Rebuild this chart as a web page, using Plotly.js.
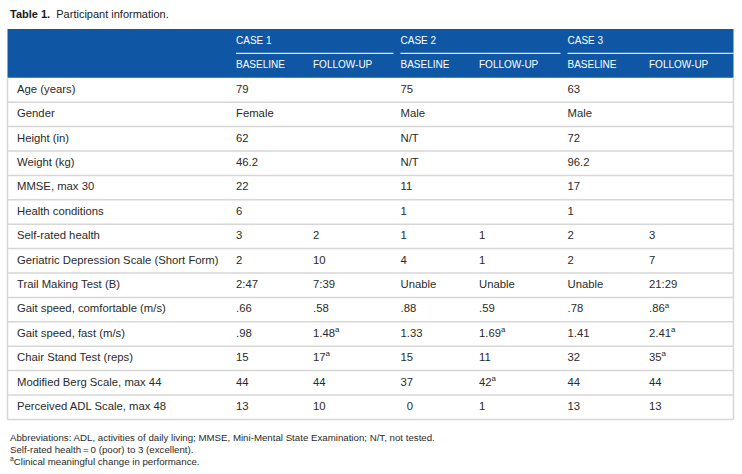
<!DOCTYPE html>
<html>
<head>
<meta charset="utf-8">
<script src="https://cdn.plot.ly/plotly-3.0.1.min.js"></script>
<style>html,body{margin:0;padding:0;background:#fff;}#chart{width:742px;height:474px;}</style>
</head>
<body>
<div id="chart"></div>
<script>
// ---------- DATA ----------
var tableTitle = "Table 1.";
var tableSubtitle = "Participant information.";
var caseNames = ["CASE 1", "CASE 2", "CASE 3"];
var phaseNames = ["BASELINE", "FOLLOW-UP"];
var rowLabels = [
  "Age (years)", "Gender", "Height (in)", "Weight (kg)", "MMSE, max 30",
  "Health conditions", "Self-rated health", "Geriatric Depression Scale (Short Form)",
  "Trail Making Test (B)", "Gait speed, comfortable (m/s)", "Gait speed, fast (m/s)",
  "Chair Stand Test (reps)", "Modified Berg Scale, max 44", "Perceived ADL Scale, max 48"
];
var case1Baseline = ["79", "Female", "62", "46.2", "22", "6", "3", "2", "2:47", ".66", ".98", "15", "44", "13"];
var case1FollowUp = ["", "", "", "", "", "", "2", "10", "7:39", ".58", "1.48<sup>a</sup>", "17<sup>a</sup>", "44", "10"];
var case2Baseline = ["75", "Male", "N/T", "N/T", "11", "1", "1", "4", "Unable", ".88", "1.33", "15", "37", "\u20070"];
var case2FollowUp = ["", "", "", "", "", "", "1", "1", "Unable", ".59", "1.69<sup>a</sup>", "11", "42<sup>a</sup>", "1"];
var case3Baseline = ["63", "Male", "72", "96.2", "17", "1", "2", "2", "Unable", ".78", "1.41", "32", "44", "13"];
var case3FollowUp = ["", "", "", "", "", "", "3", "7", "21:29", ".86<sup>a</sup>", "2.41<sup>a</sup>", "35<sup>a</sup>", "44", "13"];
var footnotes = [
  "Abbreviations: ADL, activities of daily living; MMSE, Mini-Mental State Examination; N/T, not tested.",
  "Self-rated health\u2009=\u20090 (poor) to 3 (excellent).",
  "<sup>a</sup>Clinical meaningful change in performance."
];

// ---------- LAYOUT CONSTANTS ----------
var W = 742, H = 474;
var TOP = 29, ROWH = 24.4;
var LEFT = 7.5, RIGHT = 733.5;
var colTextX = [17, 236, 313, 400.5, 479, 567.5, 649];
var caseLineEnd = [393.5, 560.5, RIGHT];
var BLUE = "#0f57a5";
var GRID = "#d6d6d6";
var TXT = "#2a2a2a";
var FONT = "Liberation Sans, Arial, Helvetica, sans-serif";
var BODY_SIZE = 11.3, HEAD_SIZE = 10, FOOT_SIZE = 9.7;
function pxToY(p) { return (p - TOP) / ROWH - 0.5; }

var valueCols = [case1Baseline, case1FollowUp, case2Baseline, case2FollowUp, case3Baseline, case3FollowUp];
var nRows = rowLabels.length;
var firstDataRow = 2;

var traces = [];
function textTrace(xs, ys, texts, color, size) {
  // skip empty cells
  var X = [], Y = [], T = [];
  texts.forEach(function (t, i) { if (t !== "") { X.push(xs[i]); Y.push(ys[i]); T.push(t); } });
  return {
    type: "scatter", mode: "text", x: X, y: Y, text: T,
    textposition: "middle right", cliponaxis: false,
    textfont: { family: FONT, size: size, color: color },
    hoverinfo: "skip", showlegend: false
  };
}
function colX(arr, c) { return arr.map(function () { return colTextX[c]; }); }
function rowIdx(arr) { return arr.map(function (_, i) { return firstDataRow + i; }); }
// row labels
traces.push(textTrace(colX(rowLabels, 0), rowIdx(rowLabels), rowLabels, TXT, BODY_SIZE));
// value columns
valueCols.forEach(function (col, c) {
  traces.push(textTrace(colX(col, c + 1), rowIdx(col), col, TXT, BODY_SIZE));
});
// header: case names (row 0)
traces.push(textTrace(caseNames.map(function (_, k) { return colTextX[1 + 2 * k]; }),
  caseNames.map(function () { return 0; }), caseNames, "#ffffff", HEAD_SIZE));
// header: phases (row 1)
var phX = [], phY = [], phT = [];
caseNames.forEach(function (_, k) {
  phaseNames.forEach(function (p, j) { phX.push(colTextX[1 + 2 * k + j]); phY.push(1); phT.push(p); });
});
traces.push(textTrace(phX, phY, phT, "#ffffff", HEAD_SIZE));

// ---------- SHAPES ----------
var shapes = [];
var lastRow = firstDataRow + nRows - 1;
shapes.push({ type: "rect", xref: "x", yref: "y", x0: LEFT, x1: RIGHT, y0: -0.5, y1: 1.5, fillcolor: BLUE, line: { width: 0 }, layer: "below" });
caseNames.forEach(function (_, k) {
  shapes.push({ type: "line", xref: "x", yref: "y", x0: colTextX[1 + 2 * k], x1: caseLineEnd[k], y0: 0.5, y1: 0.5,
    line: { color: "rgba(255,255,255,0.85)", width: 1.3 } });
});
for (var r = firstDataRow; r < lastRow; r++) {
  shapes.push({ type: "line", xref: "x", yref: "y", x0: LEFT, x1: RIGHT, y0: r + 0.5, y1: r + 0.5, line: { color: GRID, width: 1.5 } });
}
shapes.push({ type: "line", xref: "x", yref: "y", x0: LEFT, x1: RIGHT, y0: lastRow + 0.5, y1: lastRow + 0.5, line: { color: GRID, width: 1.5 } });
shapes.push({ type: "line", xref: "x", yref: "y", x0: LEFT, x1: LEFT, y0: 1.5, y1: lastRow + 0.5, line: { color: GRID, width: 1.5 } });
shapes.push({ type: "line", xref: "x", yref: "y", x0: RIGHT, x1: RIGHT, y0: 1.5, y1: lastRow + 0.5, line: { color: GRID, width: 1.5 } });

// ---------- ANNOTATIONS ----------
var annotations = [];
annotations.push({ xref: "x", yref: "y", x: 8, y: pxToY(13.5), xanchor: "left", yanchor: "middle", showarrow: false,
  text: "<b>" + tableTitle + "</b>  " + tableSubtitle, font: { family: FONT, size: 11, color: "#1a1a1a" } });
var footY = [437, 449, 461];
footnotes.forEach(function (t, i) {
  annotations.push({ xref: "x", yref: "y", x: 8, y: pxToY(footY[i]), xanchor: "left", yanchor: "middle", showarrow: false,
    text: t, font: { family: FONT, size: FOOT_SIZE, color: TXT } });
});

var layout = {
  width: W, height: H,
  margin: { l: 0, r: 0, t: 0, b: 0 },
  paper_bgcolor: "#ffffff", plot_bgcolor: "#ffffff",
  xaxis: { range: [0, W], visible: false, fixedrange: true },
  yaxis: { range: [pxToY(H), pxToY(0)], visible: false, fixedrange: true },
  shapes: shapes, annotations: annotations
};
Plotly.newPlot("chart", traces, layout, { displayModeBar: false, staticPlot: true });
</script>
</body>
</html>
